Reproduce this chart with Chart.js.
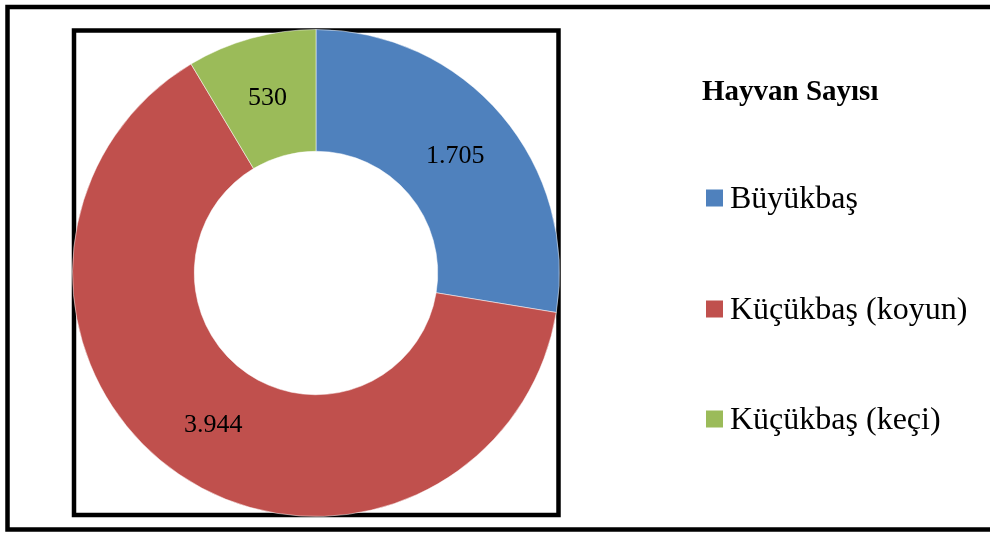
<!DOCTYPE html>
<html>
<head>
<meta charset="utf-8">
<script src="https://cdn.jsdelivr.net/npm/chart.js@4"></script>
<style>
  html, body { margin: 0; padding: 0; background: #fff; }
  #wrap { width: 990px; height: 534px; }
</style>
</head>
<body>
<div id="wrap"><canvas id="hayvanChart" width="990" height="534"></canvas></div>
<script>
const labels = ['Büyükbaş', 'Küçükbaş (koyun)', 'Küçükbaş (keçi)'];
const values = [1705, 3944, 530];
const valueLabels = ['1.705', '3.944', '530'];
const colors = ['#4F81BD', '#C0504D', '#9BBB59'];
const legendTitle = 'Hayvan Sayısı';

const serif = "'Liberation Serif', 'Times New Roman', serif";

// frames: outer border and the box round the doughnut
const frames = {
  id: 'frames',
  beforeDatasetsDraw(chart) {
    const ctx = chart.ctx;
    const a = chart.chartArea;
    ctx.save();
    ctx.strokeStyle = '#000';
    ctx.lineWidth = 4.5;
    ctx.strokeRect(7.5, 7, 1000, 522.5);
    ctx.lineWidth = 4.5;
    ctx.strokeRect(a.left + 2, a.top + 1.5, a.right - a.left - 3.5, a.bottom - a.top - 3.5);
    ctx.restore();
  }
};

// value labels in the middle of each ring segment
const sliceLabels = {
  id: 'sliceLabels',
  afterDatasetsDraw(chart) {
    const ctx = chart.ctx;
    const meta = chart.getDatasetMeta(0);
    ctx.save();
    ctx.font = '26px ' + serif;
    ctx.fillStyle = '#000';
    ctx.textAlign = 'center';
    ctx.textBaseline = 'middle';
    meta.data.forEach((arc, i) => {
      const p = arc.tooltipPosition();
      ctx.fillText(valueLabels[i], p.x, p.y + 1);
    });
    ctx.restore();
  }
};

// legend on the right, like the office chart
const sideLegend = {
  id: 'sideLegend',
  afterDraw(chart) {
    const ctx = chart.ctx;
    ctx.save();
    ctx.fillStyle = '#000';
    ctx.textBaseline = 'alphabetic';
    ctx.font = 'bold 29px ' + serif;
    ctx.fillText(legendTitle, 702, 100);
    const baselines = [208, 319, 429];
    ctx.font = '32px ' + serif;
    labels.forEach((l, i) => {
      ctx.fillStyle = colors[i];
      ctx.fillRect(706, baselines[i] - 18.5, 17, 17);
      ctx.fillStyle = '#000';
      ctx.fillText(l, 730, baselines[i]);
    });
    ctx.restore();
  }
};

new Chart(document.getElementById('hayvanChart'), {
  type: 'doughnut',
  data: {
    labels: labels,
    datasets: [{
      data: values,
      backgroundColor: colors,
      borderColor: 'rgba(255,255,255,0.5)',
      borderWidth: 1
    }]
  },
  options: {
    responsive: false,
    animation: false,
    cutout: '50%',
    layout: { padding: { left: 72, right: 430, top: 29, bottom: 17 } },
    plugins: {
      legend: { display: false },
      tooltip: { enabled: false }
    }
  },
  plugins: [frames, sliceLabels, sideLegend]
});
</script>
</body>
</html>
